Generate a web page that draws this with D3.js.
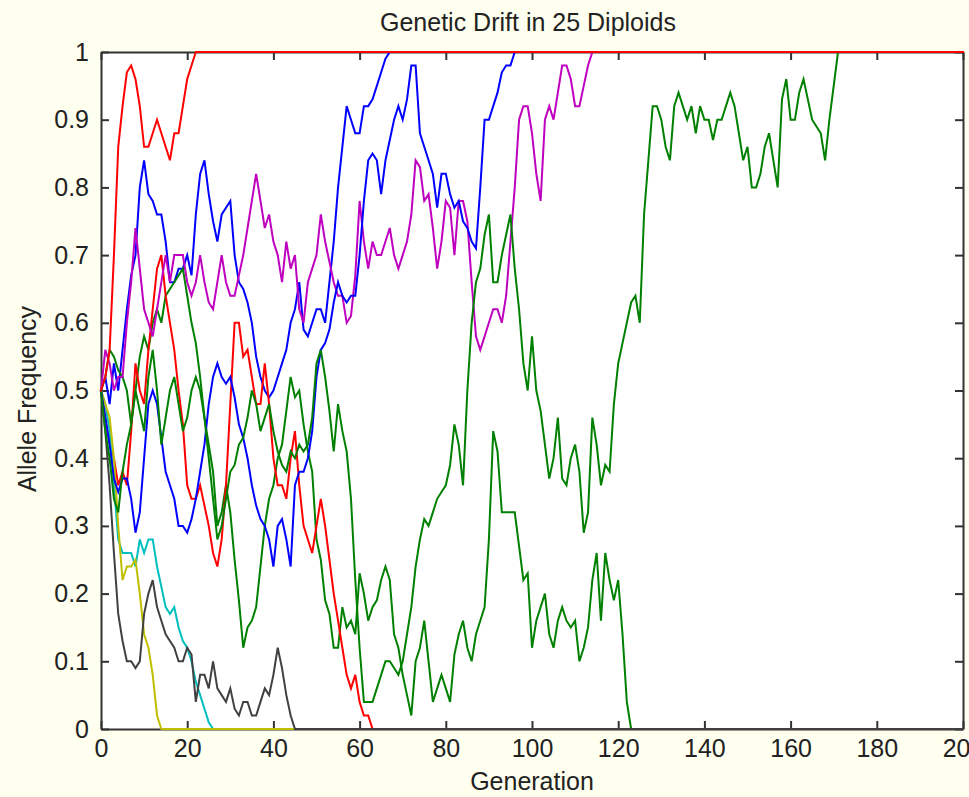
<!DOCTYPE html>
<html><head><meta charset="utf-8">
<script src="https://cdn.jsdelivr.net/npm/d3@7"></script>
<style>
html,body{margin:0;padding:0;background:#ffffef;}
svg{display:block;}
text{font-family:"Liberation Sans",Arial,sans-serif;fill:#222;}
</style></head><body>
<svg id="chart" width="969" height="797"></svg>
<script>
const titleText = "Genetic Drift in 25 Diploids";
const xLabelText = "Generation";
const yLabelText = "Allele Frequency";
const xTicks = [0,20,40,60,80,100,120,140,160,180,200];
const xTickLabels = ["0","20","40","60","80","100","120","140","160","180","200"];
const yTicks = [0,0.1,0.2,0.3,0.4,0.5,0.6,0.7,0.8,0.9,1];
const yTickLabels = ["0","0.1","0.2","0.3","0.4","0.5","0.6","0.7","0.8","0.9","1"];
const lastGeneration = 200;

// one value per generation, from generation 0 until the allele is fixed or lost
const blue1 = [0.5,0.52,0.48,0.54,0.5,0.56,0.62,0.67,0.7,0.8,0.84,0.79,0.78,0.76,0.76,0.72,0.66,0.66,0.68,0.68,
  0.7,0.67,0.76,0.82,0.84,0.79,0.75,0.72,0.76,0.77,0.78,0.7,0.66,0.65,0.63,0.6,0.55,0.52,0.5,0.49,
  0.5,0.52,0.54,0.56,0.6,0.62,0.66,0.59,0.58,0.6,0.62,0.62,0.6,0.66,0.72,0.8,0.86,0.92,0.9,0.88,
  0.88,0.92,0.92,0.93,0.95,0.97,0.99,1];
const green1 = [0.5,0.52,0.56,0.55,0.53,0.52,0.5,0.45,0.5,0.55,0.58,0.56,0.6,0.62,0.6,0.64,0.65,0.66,0.67,0.68,
  0.64,0.6,0.57,0.52,0.46,0.42,0.38,0.3,0.32,0.36,0.32,0.25,0.19,0.12,0.15,0.16,0.18,0.24,0.3,0.34,
  0.36,0.4,0.42,0.47,0.52,0.49,0.5,0.45,0.41,0.38,0.28,0.25,0.19,0.17,0.12,0.12,0.18,0.15,0.16,0.14,
  0.23,0.2,0.16,0.18,0.19,0.22,0.24,0.22,0.14,0.12,0.08,0.05,0.02,0.1,0.12,0.16,0.1,0.04,0.06,0.08,
  0.06,0.04,0.11,0.14,0.16,0.12,0.1,0.14,0.16,0.18,0.28,0.44,0.41,0.32,0.32,0.32,0.32,0.27,0.22,0.23,
  0.12,0.16,0.18,0.2,0.14,0.12,0.16,0.18,0.16,0.15,0.16,0.1,0.12,0.15,0.22,0.26,0.16,0.26,0.22,0.19,
  0.22,0.14,0.04,0];
const red1 = [0.5,0.46,0.42,0.4,0.36,0.38,0.36,0.44,0.54,0.5,0.48,0.56,0.62,0.68,0.7,0.64,0.6,0.56,0.5,0.45,
  0.36,0.34,0.34,0.36,0.33,0.3,0.26,0.24,0.28,0.36,0.48,0.6,0.6,0.55,0.56,0.52,0.48,0.48,0.54,0.48,
  0.4,0.36,0.36,0.34,0.4,0.44,0.36,0.3,0.28,0.26,0.3,0.34,0.3,0.25,0.2,0.16,0.12,0.08,0.06,0.08,
  0.04,0.02,0.02,0];
const cyan1 = [0.5,0.48,0.44,0.36,0.28,0.26,0.26,0.26,0.24,0.28,0.26,0.28,0.28,0.24,0.21,0.18,0.17,0.18,0.15,0.13,
  0.12,0.1,0.07,0.05,0.03,0.01,0];
const magenta1 = [0.5,0.56,0.54,0.5,0.52,0.52,0.6,0.66,0.74,0.68,0.62,0.6,0.58,0.62,0.66,0.7,0.66,0.7,0.7,0.7,
  0.66,0.64,0.66,0.7,0.66,0.63,0.62,0.66,0.7,0.66,0.64,0.64,0.67,0.7,0.74,0.78,0.82,0.78,0.74,0.76,
  0.72,0.7,0.66,0.72,0.68,0.7,0.62,0.6,0.66,0.68,0.7,0.76,0.72,0.69,0.66,0.64,0.64,0.6,0.61,0.67,
  0.78,0.72,0.68,0.72,0.7,0.7,0.72,0.74,0.7,0.68,0.7,0.72,0.76,0.84,0.83,0.78,0.79,0.74,0.68,0.72,
  0.78,0.77,0.7,0.78,0.78,0.75,0.66,0.58,0.56,0.58,0.6,0.62,0.62,0.6,0.64,0.72,0.8,0.9,0.92,0.92,
  0.88,0.82,0.78,0.9,0.92,0.9,0.94,0.98,0.98,0.96,0.92,0.92,0.95,0.98,1];
const yellow1 = [0.5,0.48,0.46,0.4,0.3,0.22,0.24,0.24,0.25,0.2,0.14,0.12,0.08,0.02,0];
const black1 = [0.5,0.44,0.36,0.26,0.17,0.13,0.1,0.1,0.09,0.1,0.17,0.2,0.22,0.18,0.16,0.14,0.13,0.12,0.1,0.1,
  0.12,0.11,0.04,0.08,0.08,0.06,0.1,0.06,0.05,0.04,0.06,0.03,0.02,0.04,0.04,0.02,0.02,0.04,0.06,0.05,
  0.08,0.12,0.09,0.05,0.02,0];
const blue2 = [0.5,0.46,0.42,0.37,0.35,0.37,0.37,0.34,0.29,0.32,0.4,0.48,0.5,0.48,0.43,0.38,0.36,0.34,0.3,0.3,
  0.29,0.31,0.34,0.38,0.42,0.48,0.52,0.54,0.52,0.51,0.52,0.49,0.45,0.43,0.4,0.36,0.33,0.31,0.3,0.28,
  0.24,0.3,0.31,0.28,0.24,0.36,0.38,0.38,0.4,0.44,0.52,0.56,0.57,0.59,0.63,0.66,0.64,0.63,0.64,0.64,
  0.7,0.78,0.84,0.85,0.84,0.79,0.84,0.87,0.9,0.92,0.9,0.93,0.98,0.98,0.88,0.86,0.84,0.82,0.77,0.82,
  0.82,0.79,0.77,0.78,0.75,0.74,0.72,0.71,0.8,0.9,0.9,0.92,0.94,0.97,0.98,0.98,1];
const green2 = [0.5,0.44,0.4,0.34,0.32,0.38,0.42,0.45,0.5,0.47,0.44,0.52,0.56,0.5,0.42,0.46,0.5,0.52,0.48,0.44,
  0.46,0.5,0.52,0.5,0.46,0.4,0.34,0.28,0.3,0.34,0.38,0.39,0.42,0.43,0.46,0.5,0.48,0.44,0.46,0.48,
  0.44,0.41,0.39,0.38,0.41,0.4,0.42,0.41,0.42,0.46,0.54,0.56,0.52,0.47,0.41,0.48,0.44,0.41,0.34,0.22,
  0.12,0.04,0.04,0.04,0.06,0.08,0.1,0.1,0.09,0.08,0.1,0.14,0.18,0.24,0.28,0.31,0.3,0.32,0.34,0.35,
  0.36,0.39,0.45,0.42,0.36,0.5,0.6,0.66,0.68,0.73,0.76,0.66,0.66,0.7,0.73,0.76,0.68,0.62,0.54,0.5,
  0.58,0.5,0.47,0.42,0.37,0.4,0.46,0.37,0.36,0.4,0.42,0.38,0.29,0.32,0.46,0.42,0.36,0.39,0.38,0.48,
  0.54,0.57,0.6,0.63,0.64,0.6,0.76,0.84,0.92,0.92,0.9,0.86,0.84,0.92,0.94,0.92,0.9,0.92,0.88,0.92,
  0.9,0.9,0.87,0.9,0.9,0.92,0.94,0.92,0.88,0.84,0.86,0.8,0.8,0.82,0.86,0.88,0.84,0.8,0.93,0.96,
  0.9,0.9,0.94,0.96,0.93,0.9,0.89,0.88,0.84,0.9,0.95,1];
const red2 = [0.5,0.52,0.56,0.7,0.86,0.92,0.97,0.98,0.96,0.92,0.86,0.86,0.88,0.9,0.88,0.86,0.84,0.88,0.88,0.92,
  0.96,0.98,1];

const seriesValues = [blue1, green1, red1, cyan1, magenta1, yellow1, black1, blue2, green2, red2];
const seriesColors = ["#0000ff","#008000","#ff0000","#00bfbf","#bf00bf","#bfbf00","#404040","#0000ff","#008000","#ff0000"];

const W = 969, H = 797;
const plot = {left:101, right:963, top:52, bottom:729};
const fontSize = "25px";
const svg = d3.select("#chart");

const x = d3.scaleLinear().domain([0, lastGeneration]).range([plot.left, plot.right]);
const y = d3.scaleLinear().domain([0, 1]).range([plot.bottom, plot.top]);

svg.append("rect").attr("x",0).attr("y",0).attr("width",W).attr("height",H).attr("fill","#ffffef");
svg.append("rect").attr("x",plot.left).attr("y",plot.top)
  .attr("width",plot.right-plot.left).attr("height",plot.bottom-plot.top).attr("fill","#ffffff");

const axisColor = "#333333";
function styleAxis(g){
  g.selectAll(".domain").attr("stroke",axisColor).attr("stroke-width",2);
  g.selectAll(".tick line").attr("stroke",axisColor).attr("stroke-width",2);
  g.selectAll(".tick text").attr("fill","#222").style("font-family","'Liberation Sans',Arial,sans-serif").style("font-size",fontSize);
}

svg.append("g").attr("transform",`translate(0,${plot.bottom})`)
  .call(d3.axisBottom(x).tickValues(xTicks).tickFormat((d,i)=>xTickLabels[i]).tickSize(-8).tickSizeOuter(0).tickPadding(10))
  .call(styleAxis);
svg.append("g").attr("transform",`translate(0,${plot.top})`)
  .call(d3.axisTop(x).tickValues(xTicks).tickFormat("").tickSize(-8).tickSizeOuter(0))
  .call(styleAxis);
svg.append("g").attr("transform",`translate(${plot.left},0)`)
  .call(d3.axisLeft(y).tickValues(yTicks).tickFormat((d,i)=>yTickLabels[i]).tickSize(-8).tickSizeOuter(0).tickPadding(12))
  .call(styleAxis);
svg.append("g").attr("transform",`translate(${plot.right},0)`)
  .call(d3.axisRight(y).tickValues(yTicks).tickFormat("").tickSize(-8).tickSizeOuter(0))
  .call(styleAxis);

const line = d3.line().x(d=>x(d[0])).y(d=>y(d[1]));
seriesValues.forEach((vals,i)=>{
  const pts = vals.map((v,g)=>[g,v]);
  const last = pts[pts.length-1];
  if (last[0] < lastGeneration) pts.push([lastGeneration, last[1]]);
  svg.append("path").datum(pts).attr("d",line)
    .attr("fill","none").attr("stroke",seriesColors[i]).attr("stroke-width",2)
    .attr("stroke-linejoin","miter").attr("stroke-linecap","square");
});

svg.append("text").attr("x",528).attr("y",31)
  .attr("text-anchor","middle").style("font-size",fontSize).text(titleText);
svg.append("text").attr("x",532).attr("y",790)
  .attr("text-anchor","middle").style("font-size",fontSize).text(xLabelText);
svg.append("text").attr("transform",`translate(36,399) rotate(-90)`)
  .attr("text-anchor","middle").style("font-size",fontSize).text(yLabelText);
</script>
</body></html>
